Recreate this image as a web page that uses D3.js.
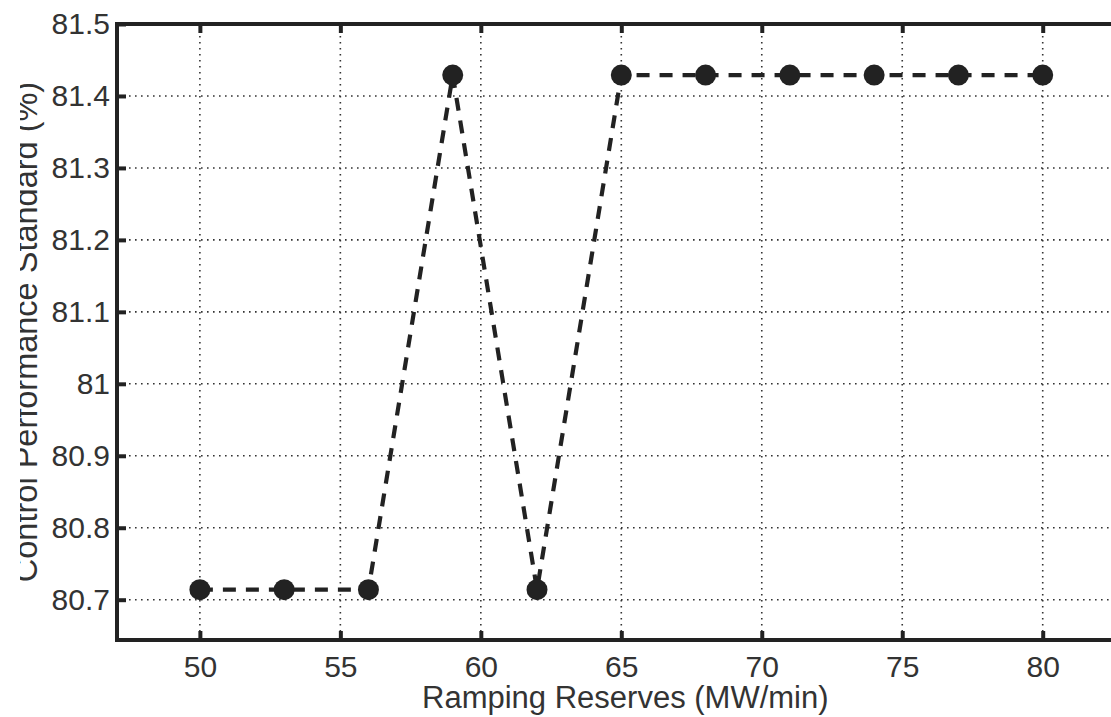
<!DOCTYPE html>
<html>
<head>
<meta charset="utf-8">
<script src="https://cdn.jsdelivr.net/npm/d3@7"></script>
<style>
  html, body { margin: 0; padding: 0; background: #fff; }
  svg { display: block; }
  text { font-family: "Liberation Sans", Arial, sans-serif; fill: #333; }
</style>
</head>
<body>
<svg id="chart" width="1111" height="717"></svg>
<script>
// data
const reserves = [50, 53, 56, 59, 62, 65, 68, 71, 74, 77, 80];
const cps = [80.714, 80.714, 80.714, 81.429, 80.714, 81.429, 81.429, 81.429, 81.429, 81.429, 81.429];
const xTicks = [50, 55, 60, 65, 70, 75, 80];
const yTicks = [80.7, 80.8, 80.9, 81, 81.1, 81.2, 81.3, 81.4, 81.5];

const svg = d3.select("#chart");
const plotLeft = 117, plotTop = 24, plotBottom = 640, plotRight = 1127;

const x = d3.scaleLinear().domain([47.05, 83]).range([plotLeft, plotRight]);
const y = d3.scaleLinear().domain([80.644, 81.5]).range([plotBottom, plotTop]);

// grid
const grid = svg.append("g").attr("class", "grid");
grid.selectAll("line.v").data(xTicks).join("line")
  .attr("x1", d => x(d)).attr("x2", d => x(d))
  .attr("y1", plotTop).attr("y2", plotBottom)
  .attr("stroke", "#333").attr("stroke-width", 1.6)
  .attr("stroke-dasharray", "1.6,4.4");
grid.selectAll("line.h").data(yTicks.filter(d => d < 81.5)).join("line")
  .attr("x1", plotLeft).attr("x2", plotRight)
  .attr("y1", d => y(d)).attr("y2", d => y(d))
  .attr("stroke", "#333").attr("stroke-width", 1.6)
  .attr("stroke-dasharray", "1.6,4.4");

// axes
const fmtY = d => d === 81 ? "81" : d3.format(".1f")(d);
const axisStyle = g => {
  g.select(".domain").remove();
  g.selectAll(".tick line").attr("stroke", "#222").attr("stroke-width", 4);
  g.selectAll(".tick text").attr("fill", "#333").style("font-size", "30px")
    .style("font-family", "'Liberation Sans', Arial, sans-serif");
};

svg.append("g").attr("transform", `translate(0,${plotBottom})`)
  .call(d3.axisBottom(x).tickValues(xTicks).tickSizeInner(-9).tickSizeOuter(0).tickPadding(0))
  .call(axisStyle)
  .call(g => g.selectAll(".tick text").attr("y", 37).attr("dy", null));

svg.append("g").attr("transform", `translate(0,${plotTop})`)
  .call(d3.axisTop(x).tickValues(xTicks).tickSizeInner(-9).tickSizeOuter(0).tickFormat(""))
  .call(axisStyle);

svg.append("g").attr("transform", `translate(${plotLeft},0)`)
  .call(d3.axisLeft(y).tickValues(yTicks).tickFormat(fmtY).tickSizeInner(-9).tickSizeOuter(0).tickPadding(8))
  .call(axisStyle)
  .call(g => g.selectAll(".tick text").attr("x", -7));

// frame
svg.append("rect")
  .attr("x", plotLeft).attr("y", plotTop)
  .attr("width", plotRight - plotLeft).attr("height", plotBottom - plotTop)
  .attr("fill", "none").attr("stroke", "#222").attr("stroke-width", 4);

// series
const pts = reserves.map((r, i) => ({ x: r, y: cps[i] }));
const line = d3.line().x(d => x(d.x)).y(d => y(d.y));
svg.append("path").datum(pts)
  .attr("d", line)
  .attr("fill", "none").attr("stroke", "#222")
  .attr("stroke-width", 4.2).attr("stroke-dasharray", "13,10");
svg.selectAll("circle.pt").data(pts).join("circle")
  .attr("cx", d => x(d.x)).attr("cy", d => y(d.y))
  .attr("r", 10.5).attr("fill", "#222");

// labels
svg.append("text")
  .attr("x", x(65) + 4).attr("y", 708)
  .attr("text-anchor", "middle").style("font-size", "31px")
  .text("Ramping Reserves (MW/min)");

// y label is cut off on the left in the source image
svg.append("clipPath").attr("id", "ylabclip")
  .append("rect").attr("x", 20).attr("y", 0).attr("width", 60).attr("height", 717);
svg.append("g")
  .attr("clip-path", "url(#ylabclip)")
  .append("text")
  .attr("transform", `translate(37,${(plotTop + plotBottom) / 2}) rotate(-90)`)
  .attr("text-anchor", "middle").style("font-size", "32.5px")
  .text("Control Performance Standard (%)");
</script>
</body>
</html>
